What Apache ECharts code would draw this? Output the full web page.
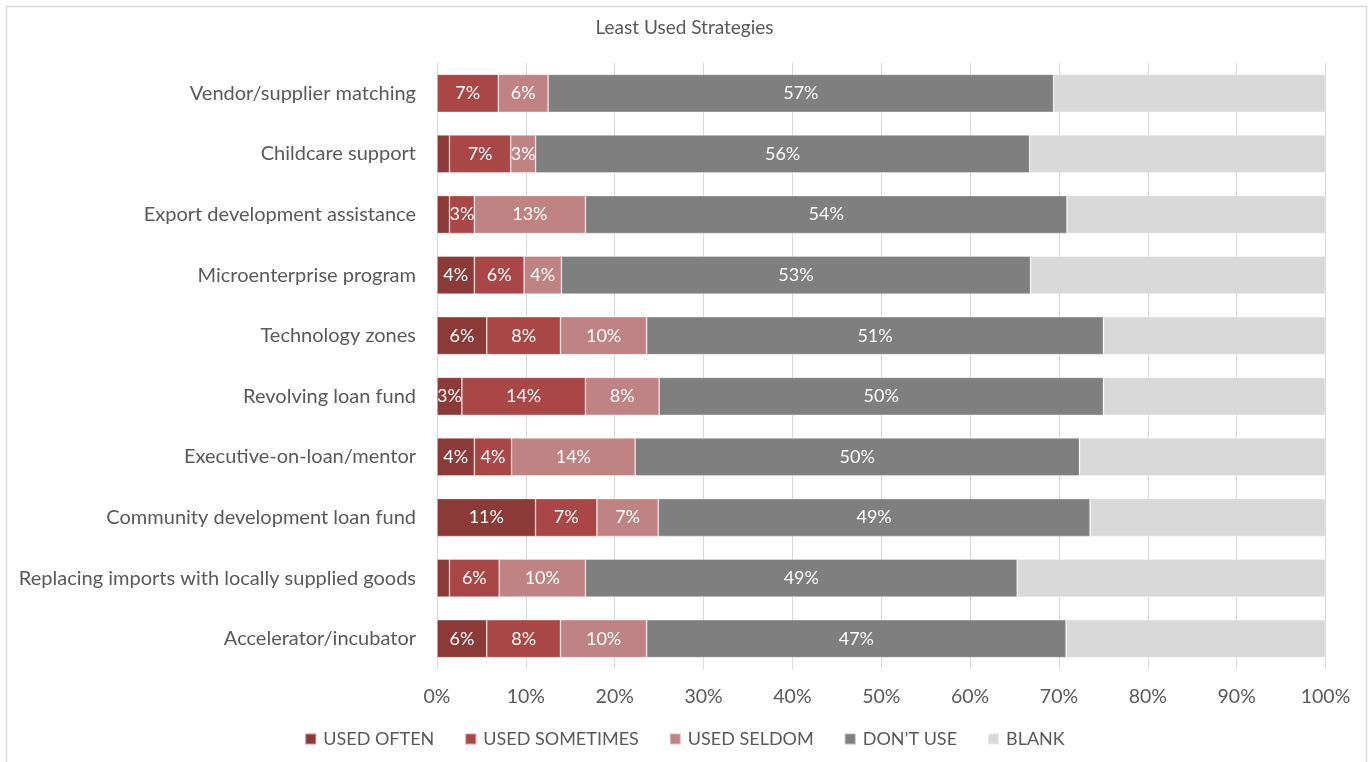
<!DOCTYPE html>
<html>
<head>
<meta charset="utf-8">
<title>Least Used Strategies</title>
<script src="https://cdn.jsdelivr.net/npm/echarts@6/dist/echarts.min.js"></script>
<style>
  html, body { margin: 0; padding: 0; background: #fff; }
  #chart { width: 1369px; height: 762px; }
</style>
</head>
<body>
<div id="chart"></div>
<script>
// Strategies, listed top to bottom
const categories = [
  'Vendor/supplier matching',
  'Childcare support',
  'Export development assistance',
  'Microenterprise program',
  'Technology zones',
  'Revolving loan fund',
  'Executive-on-loan/mentor',
  'Community development loan fund',
  'Replacing imports with locally supplied goods',
  'Accelerator/incubator'
];

// Share of respondents (%) for each answer
const usedOften     = [0,    1.4,  1.4,  4.2,  5.6,  2.8,  4.2,  11.1, 1.4,  5.6];
const usedSometimes = [6.9,  6.9,  2.8,  5.6,  8.3,  13.9, 4.2,  6.9,  5.6,  8.3];
const usedSeldom    = [5.6,  2.8,  12.5, 4.2,  9.7,  8.3,  13.9, 6.9,  9.7,  9.7];
const dontUse       = [56.9, 55.6, 54.2, 52.8, 51.4, 50.0, 50.0, 48.6, 48.6, 47.2];
const blank         = [30.6, 33.3, 29.1, 33.2, 25.0, 25.0, 27.7, 26.5, 34.7, 29.2];

const xTicks = [0, 10, 20, 30, 40, 50, 60, 70, 80, 90, 100];

const seriesDefs = [
  { name: 'USED OFTEN',     data: usedOften,     color: '#8C3A38', label: true },
  { name: 'USED SOMETIMES', data: usedSometimes, color: '#A94646', label: true },
  { name: 'USED SELDOM',    data: usedSeldom,    color: '#C08384', label: true },
  { name: 'DON\u2019T USE', data: dontUse,       color: '#7F7F7F', label: true },
  { name: 'BLANK',          data: blank,         color: '#D9D9D9', label: false }
];

const FONT = 'Lato, "Open Sans", sans-serif';

const chart = echarts.init(document.getElementById('chart'), null, { renderer: 'canvas' });

chart.setOption({
  animation: false,
  backgroundColor: '#fff',
  textStyle: { fontFamily: FONT },
  title: {
    text: 'Least Used Strategies',
    left: 'center',
    top: 13,
    textStyle: { fontFamily: FONT, fontSize: 19, fontWeight: 'normal', color: '#595959' }
  },
  legend: {
    bottom: 9,
    left: 'center',
    itemWidth: 11,
    itemHeight: 11,
    itemGap: 30,
    icon: 'rect',
    textStyle: { fontFamily: FONT, fontSize: 18, color: '#595959', padding: [0, 0, 0, 2] },
    data: seriesDefs.map(s => s.name)
  },
  grid: { left: 437, right: 43.5, top: 63, bottom: 93, containLabel: false },
  xAxis: {
    type: 'value',
    min: 0,
    max: 100,
    interval: 10,
    axisLine: { show: false },
    axisTick: { show: false },
    splitLine: { show: true, lineStyle: { color: '#D9D9D9', width: 1 } },
    axisLabel: {
      margin: 18,
      fontFamily: FONT,
      fontSize: 19.5,
      color: '#595959',
      formatter: v => (xTicks.includes(v) ? v + '%' : '')
    }
  },
  yAxis: {
    type: 'category',
    inverse: true,
    data: categories,
    axisLine: { show: false },
    axisTick: { show: false },
    axisLabel: { margin: 21, fontFamily: FONT, fontSize: 20, color: '#595959' }
  },
  graphic: [{
    type: 'rect',
    silent: true,
    shape: { x: 6.5, y: 6.5, width: 1360, height: 800 },
    style: { fill: 'none', stroke: '#D9D9D9', lineWidth: 1.5 }
  }],
  series: seriesDefs.map(s => ({
    name: s.name,
    type: 'bar',
    stack: 'total',
    barWidth: 38,
    data: s.data,
    itemStyle: { color: s.color, borderColor: 'rgba(255,255,255,0.45)', borderWidth: 0.75 },
    label: {
      show: s.label,
      position: 'inside',
      fontFamily: FONT,
      fontSize: 18,
      color: '#fff',
      formatter: p => (p.value >= 2 ? Math.round(p.value) + '%' : '')
    }
  }))
});
</script>
</body>
</html>
